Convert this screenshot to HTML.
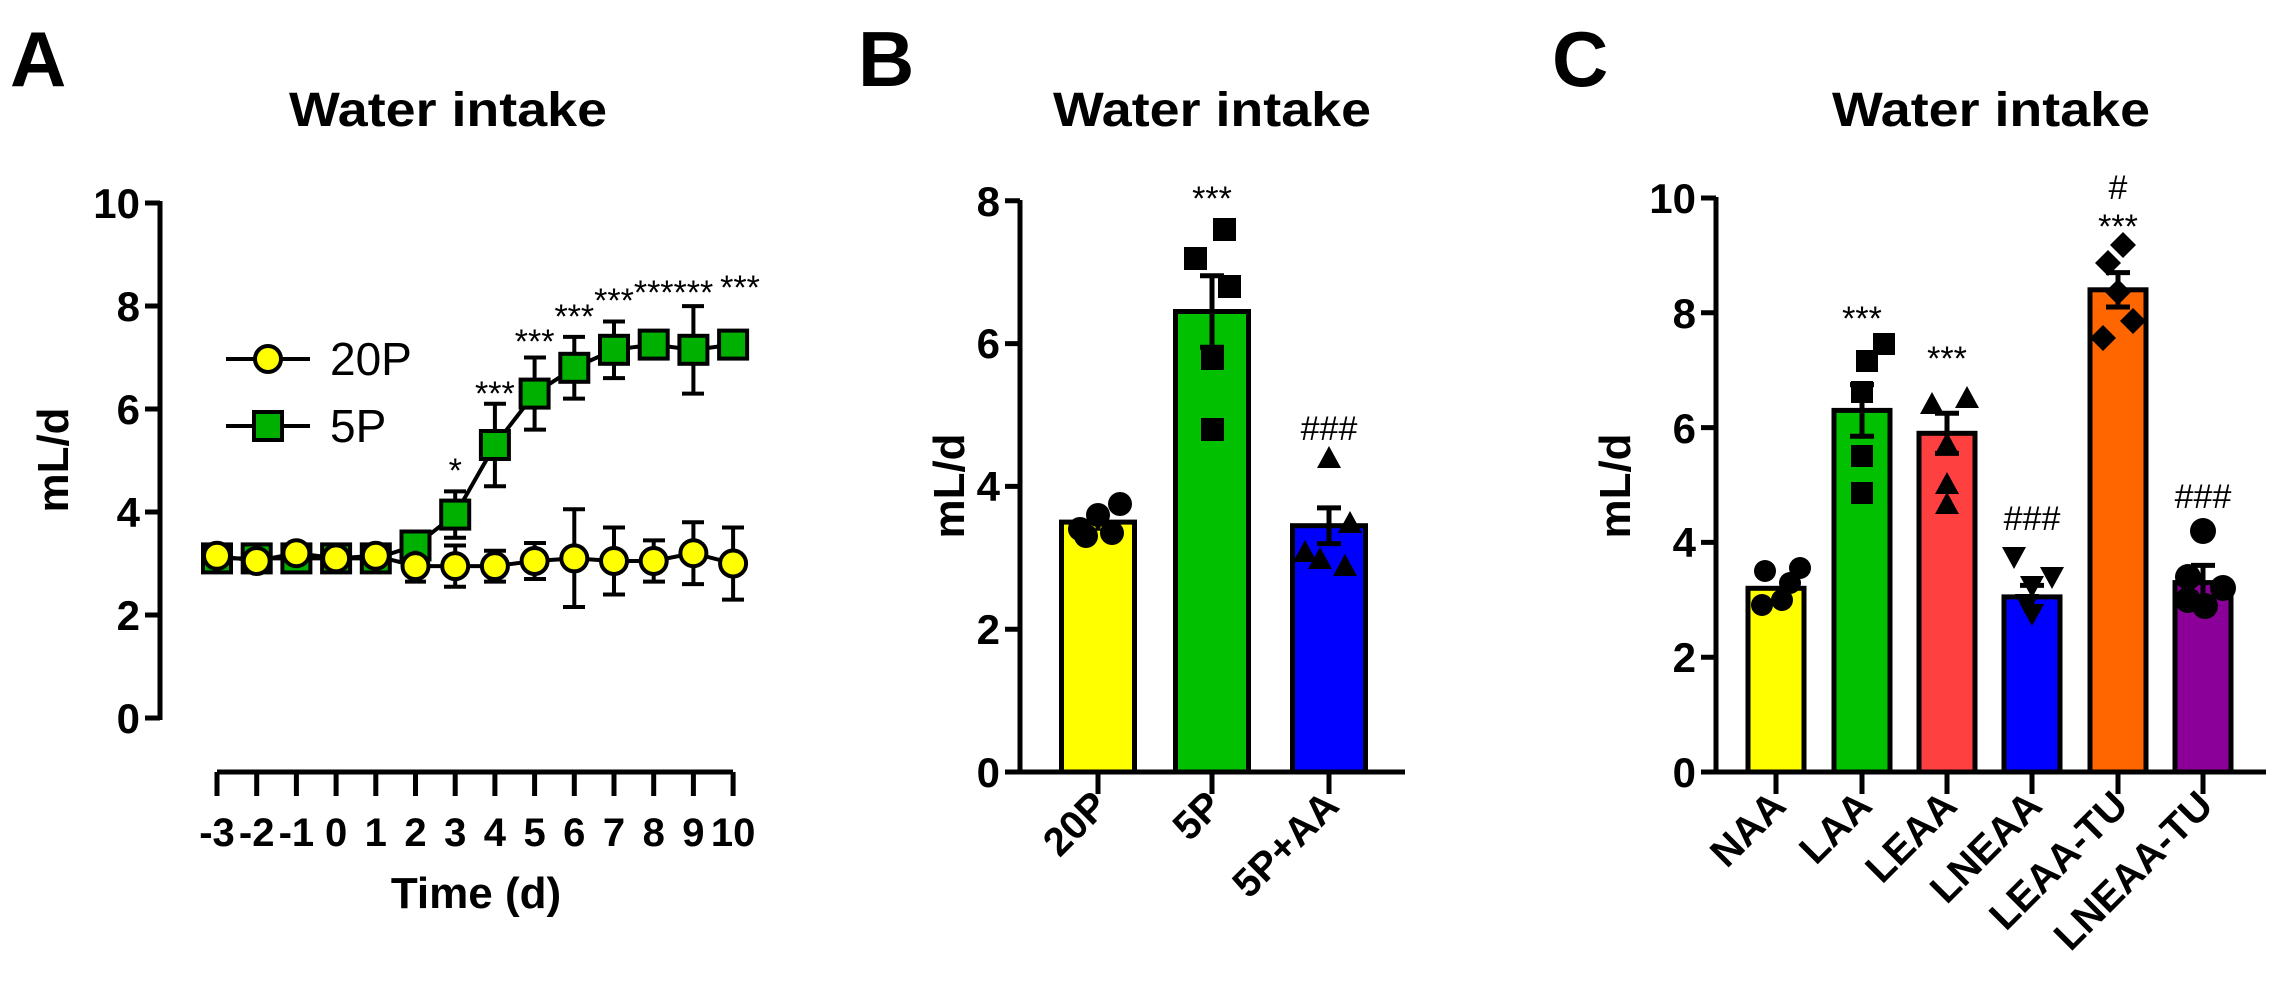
<!DOCTYPE html>
<html><head><meta charset="utf-8"><style>
html,body{margin:0;padding:0;background:#fff;}
svg{display:block;}
text{font-family:"Liberation Sans",Arial,sans-serif;}
</style></head><body>
<svg width="2278" height="1008" viewBox="0 0 2278 1008" xmlns="http://www.w3.org/2000/svg">
<g font-weight="bold" font-size="78">
<text x="10" y="86">A</text>
<text x="858" y="86">B</text>
<text x="1552" y="86">C</text>
</g>
<g font-weight="bold" font-size="48" text-anchor="middle">
<text x="448" y="126" textLength="318" lengthAdjust="spacingAndGlyphs">Water intake</text>
<text x="1212" y="126" textLength="318" lengthAdjust="spacingAndGlyphs">Water intake</text>
<text x="1991" y="126" textLength="318" lengthAdjust="spacingAndGlyphs">Water intake</text>
</g>

<!-- ===== Panel A ===== -->
<g stroke="#000" stroke-width="5" fill="none">
<path d="M160,201 V720"/>
<path d="M145,203H160 M145,306H160 M145,409H160 M145,512H160 M145,615H160 M145,718H160"/>
<path d="M217,772 H733"/>
<path d="M217,772V796 M256.7,772V796 M296.4,772V796 M336.1,772V796 M375.8,772V796 M415.5,772V796 M455.2,772V796 M494.9,772V796 M534.6,772V796 M574.3,772V796 M614,772V796 M653.7,772V796 M693.4,772V796 M733.1,772V796"/>
</g>
<g font-weight="bold" font-size="42" text-anchor="end">
<text x="140" y="218">10</text><text x="140" y="321">8</text><text x="140" y="424">6</text>
<text x="140" y="527">4</text><text x="140" y="630">2</text><text x="140" y="733">0</text>
</g>
<g font-weight="bold" font-size="40" text-anchor="middle">
<text x="217" y="846">-3</text><text x="256.7" y="846">-2</text><text x="296.4" y="846">-1</text>
<text x="336.1" y="846">0</text><text x="375.8" y="846">1</text><text x="415.5" y="846">2</text>
<text x="455.2" y="846">3</text><text x="494.9" y="846">4</text><text x="534.6" y="846">5</text>
<text x="574.3" y="846">6</text><text x="614" y="846">7</text><text x="653.7" y="846">8</text>
<text x="693.4" y="846">9</text><text x="733.1" y="846">10</text>
<text x="476" y="908" font-size="44">Time (d)</text>
<text transform="translate(68,460) rotate(-90)" font-size="44">mL/d</text>
</g>
<g stroke="#000" stroke-width="4">
<path d="M226,359H310 M226,426H310"/>
<circle cx="268" cy="359" r="13" fill="#ffff00"/>
<rect x="254" y="412" width="28" height="28" fill="#00b000"/>
</g>
<g font-size="46"><text x="330" y="375">20P</text><text x="330" y="442">5P</text></g>

<g stroke="#000" stroke-width="4" fill="none">
<path d="M217,558.4 L256.7,558.4 L296.4,558.4 L336.1,558.4 L375.8,558.4 L415.5,545.5 L455.2,514.6 L494.9,445 L534.6,393.6 L574.3,367.8 L614,349.8 L653.7,344.6 L693.4,349.8 L733.1,344.6"/>
<path d="M415.5,532.6V558.4 M405,532.6h21"/>
<path d="M455.2,491.4V537.7 M444,491.4h22 M444,537.7h22"/>
<path d="M494.9,403.8V486.2 M484,403.8h22 M484,486.2h22"/>
<path d="M534.6,357.5V429.6 M524,357.5h22 M524,429.6h22"/>
<path d="M574.3,336.9V398.6 M563,336.9h22 M563,398.6h22"/>
<path d="M614,321.5V378.1 M603,321.5h22 M603,378.1h22"/>
<path d="M653.7,334.3V354.9 M643,334.3h22 M643,354.9h22"/>
<path d="M693.4,306.1V393.6 M682,306.1h22 M682,393.6h22"/>
<path d="M733.1,334.3V354.9 M722,334.3h22 M722,354.9h22"/>
<path d="M217,548V569 M256.7,548V569 M296.4,548V569 M336.1,548V569 M375.8,548V569"/>
</g>
<g stroke="#000" stroke-width="4" fill="#00b000">
<rect x="203" y="544.4" width="28" height="28"/><rect x="242.7" y="544.4" width="28" height="28"/>
<rect x="282.4" y="544.4" width="28" height="28"/><rect x="322.1" y="544.4" width="28" height="28"/>
<rect x="361.8" y="544.4" width="28" height="28"/><rect x="401.5" y="531.5" width="28" height="28"/>
<rect x="441.2" y="500.6" width="28" height="28"/><rect x="480.9" y="431" width="28" height="28"/>
<rect x="520.6" y="379.6" width="28" height="28"/><rect x="560.3" y="353.8" width="28" height="28"/>
<rect x="600" y="335.8" width="28" height="28"/><rect x="639.7" y="330.6" width="28" height="28"/>
<rect x="679.4" y="335.8" width="28" height="28"/><rect x="719.1" y="330.6" width="28" height="28"/>
</g>
<g stroke="#000" stroke-width="4" fill="none">
<path d="M217,555.8 L256.7,561 L296.4,553.2 L336.1,558.4 L375.8,555.8 L415.5,566.1 L455.2,566.1 L494.9,566.1 L534.6,561 L574.3,558.4 L614,561 L653.7,561 L693.4,553.2 L733.1,563.5"/>
<path d="M415.5,550.7V581.6 M405,581.6h21"/>
<path d="M455.2,545.5V586.7 M444,545.5h22 M444,586.7h22"/>
<path d="M494.9,550.7V581.6 M484,550.7h22 M484,581.6h22"/>
<path d="M534.6,543V579 M524,543h22 M524,579h22"/>
<path d="M574.3,509.2V607 M563,509.2h22 M563,607h22"/>
<path d="M614,527.5V594.5 M603,527.5h22 M603,594.5h22"/>
<path d="M653.7,540.4V581.6 M643,540.4h22 M643,581.6h22"/>
<path d="M693.4,522.3V584.1 M682,522.3h22 M682,584.1h22"/>
<path d="M733.1,527.5V599.6 M722,527.5h22 M722,599.6h22"/>
</g>
<g stroke="#000" stroke-width="4" fill="#ffff00">
<circle cx="217" cy="555.8" r="13"/><circle cx="256.7" cy="561" r="13"/><circle cx="296.4" cy="553.2" r="13"/>
<circle cx="336.1" cy="558.4" r="13"/><circle cx="375.8" cy="555.8" r="13"/><circle cx="415.5" cy="566.1" r="13"/>
<circle cx="455.2" cy="566.1" r="13"/><circle cx="494.9" cy="566.1" r="13"/><circle cx="534.6" cy="561" r="13"/>
<circle cx="574.3" cy="558.4" r="13"/><circle cx="614" cy="561" r="13"/><circle cx="653.7" cy="561" r="13"/>
<circle cx="693.4" cy="553.2" r="13"/><circle cx="733.1" cy="563.5" r="13"/>
</g>
<g font-size="34" text-anchor="middle">
<text x="455.2" y="482">*</text><text x="494.9" y="405">***</text><text x="534.6" y="353">***</text>
<text x="574.3" y="328">***</text><text x="614" y="312">***</text><text x="653.7" y="304">***</text>
<text x="693.4" y="304">***</text><text x="740" y="299">***</text>
</g>

<!-- ===== Panel B ===== -->
<g stroke="#000" stroke-width="5">
<rect x="1061.5" y="522.1" width="73" height="249.9" fill="#ffff00"/>
<rect x="1175.5" y="311.5" width="73" height="460.5" fill="#00c000"/>
<rect x="1292.5" y="525.7" width="73" height="246.3" fill="#0000ff"/>
</g>
<g stroke="#000" stroke-width="5" fill="none">
<path d="M1020,200 V772 H1405"/>
<path d="M1005,772H1020 M1005,629.2H1020 M1005,486.4H1020 M1005,343.6H1020 M1005,200.8H1020"/>
<path d="M1098,772V794 M1212,772V794 M1329,772V794"/>
<path d="M1098,513.5V530.7 M1087,513.5h22"/>
<path d="M1212,275.8V347.2 M1200,275.8h24 M1200,347.2h24"/>
<path d="M1329,507.9V543.6 M1317,507.9h24 M1317,543.6h24"/>
</g>
<g fill="#000">
<circle cx="1080" cy="529" r="12"/><circle cx="1098" cy="515" r="12"/><circle cx="1120" cy="504" r="12"/>
<circle cx="1086" cy="536" r="12"/><circle cx="1112" cy="533" r="12"/>
<rect x="1213" y="218" width="23" height="23"/><rect x="1184" y="247" width="23" height="23"/>
<rect x="1218" y="275" width="23" height="23"/><rect x="1201" y="347" width="23" height="23"/>
<rect x="1201" y="418" width="23" height="23"/>
<path d="M1329,446l12,22h-24z M1350,511l12,22h-24z M1305,540l12,22h-24z M1345,554l12,22h-24z M1320,547l12,22h-24z"/>
</g>
<g font-weight="bold" font-size="42" text-anchor="end">
<text x="1000" y="787">0</text><text x="1000" y="644">2</text><text x="1000" y="501">4</text>
<text x="1000" y="358">6</text><text x="1000" y="216">8</text>
</g>
<text transform="translate(964,486) rotate(-90)" font-weight="bold" font-size="44" text-anchor="middle">mL/d</text>
<g font-size="34" text-anchor="middle"><text x="1212" y="210">***</text><text x="1329" y="440">###</text></g>
<g font-weight="bold" font-size="40" text-anchor="end">
<text transform="translate(1110,808) rotate(-45)">20P</text>
<text transform="translate(1224,808) rotate(-45)">5P</text>
<text transform="translate(1341,808) rotate(-45)">5P+AA</text>
</g>

<!-- ===== Panel C ===== -->
<g stroke="#000" stroke-width="5">
<rect x="1748" y="588.3" width="56" height="183.7" fill="#ffff00"/>
<rect x="1834" y="410.4" width="56" height="361.6" fill="#00c000"/>
<rect x="1919" y="433.3" width="56" height="338.7" fill="#ff4040"/>
<rect x="2004" y="596.9" width="56" height="175.1" fill="#0000ff"/>
<rect x="2090" y="289.8" width="56" height="482.2" fill="#ff6600"/>
<rect x="2175" y="582.6" width="56" height="189.4" fill="#8b0099"/>
</g>
<g stroke="#000" stroke-width="5" fill="none">
<path d="M1716,197 V772 H2266"/>
<path d="M1701,772H1716 M1701,657.2H1716 M1701,542.4H1716 M1701,427.6H1716 M1701,312.8H1716 M1701,198H1716"/>
<path d="M1776,772V794 M1862,772V794 M1947,772V794 M2032,772V794 M2118,772V794 M2203,772V794"/>
<path d="M1862,384.6V436.2 M1850,384.6h24 M1850,436.2h24"/>
<path d="M1947,413.2V453.4 M1935,413.2h24 M1935,453.4h24"/>
<path d="M2032,585.4V608.4 M2020,585.4h24"/>
<path d="M2118,272.6V307 M2106,272.6h24 M2106,307h24"/>
<path d="M2203,565.4V599.8 M2191,565.4h24"/>
</g>
<g fill="#000">
<circle cx="1765" cy="571" r="11"/><circle cx="1790" cy="583" r="11"/><circle cx="1800" cy="568" r="11"/>
<circle cx="1762" cy="605" r="11"/><circle cx="1782" cy="600" r="11"/>
<rect x="1873" y="333" width="22" height="22"/><rect x="1856" y="350" width="22" height="22"/>
<rect x="1851" y="381" width="22" height="22"/><rect x="1851" y="445" width="22" height="22"/>
<rect x="1851" y="482" width="22" height="22"/>
<path d="M1932,392l12,22h-24z M1967,386l12,22h-24z M1947,432l12,22h-24z M1947,472l12,22h-24z M1947,492l12,22h-24z"/>
<path d="M2014,569l12,-22h-24z M2052,589l12,-22h-24z M2032,598l12,-22h-24z M2027,616l12,-22h-24z M2032,626l12,-22h-24z"/>
<path d="M2123,232l13,13l-13,13l-13,-13z M2108,250l13,13l-13,13l-13,-13z M2118,279l13,13l-13,13l-13,-13z M2133,308l13,13l-13,13l-13,-13z M2103,325l13,13l-13,13l-13,-13z"/>
<circle cx="2203" cy="531" r="13"/><circle cx="2188" cy="577" r="13"/><circle cx="2223" cy="588" r="13"/>
<circle cx="2188" cy="600" r="13"/><circle cx="2205" cy="606" r="13"/>
</g>
<g font-weight="bold" font-size="42" text-anchor="end">
<text x="1696" y="787">0</text><text x="1696" y="672">2</text><text x="1696" y="557">4</text>
<text x="1696" y="443">6</text><text x="1696" y="328">8</text><text x="1696" y="213">10</text>
</g>
<text transform="translate(1630,486) rotate(-90)" font-weight="bold" font-size="44" text-anchor="middle">mL/d</text>
<g font-size="34" text-anchor="middle">
<text x="1862" y="330">***</text><text x="1947" y="370">***</text><text x="2032" y="530">###</text>
<text x="2118" y="238">***</text><text x="2118" y="199">#</text><text x="2203" y="508">###</text>
</g>
<g font-weight="bold" font-size="40" text-anchor="end">
<text transform="translate(1788,808) rotate(-45)">NAA</text>
<text transform="translate(1874,808) rotate(-45)">LAA</text>
<text transform="translate(1959,808) rotate(-45)">LEAA</text>
<text transform="translate(2044,808) rotate(-45)">LNEAA</text>
<text transform="translate(2130,808) rotate(-45)">LEAA-TU</text>
<text transform="translate(2215,808) rotate(-45)">LNEAA-TU</text>
</g>
</svg>
</body></html>
